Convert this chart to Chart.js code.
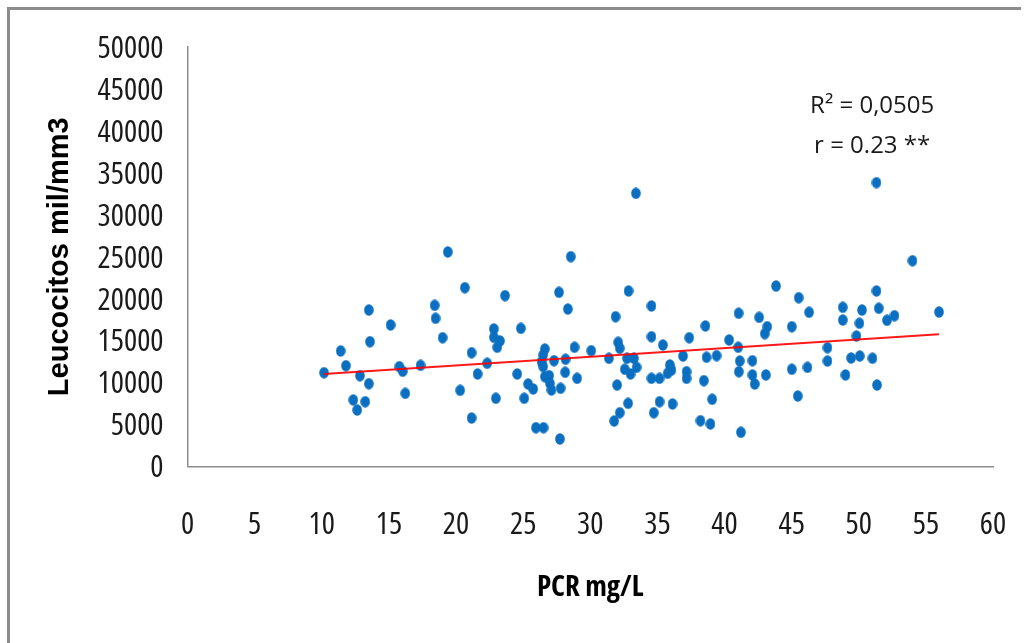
<!DOCTYPE html>
<html>
<head>
<meta charset="utf-8">
<title>Leucocitos vs PCR</title>
<script src="https://cdn.jsdelivr.net/npm/chart.js@4.4.1/dist/chart.umd.min.js"></script>
<style>
  html, body { margin: 0; padding: 0; background: #fff; }
  #wrap { position: relative; width: 1024px; height: 643px; overflow: hidden; }
  #frame { position: absolute; left: 7px; top: 7px; width: 1011px; height: 660px;
           border-left: 3px solid #8c8c8c; border-top: 3px solid #8c8c8c; }
  #myChart { position: absolute; left: 0; top: 0; }
</style>
</head>
<body>
<div id="wrap">
  <div id="frame"></div>
  <canvas id="myChart" width="1024" height="643"></canvas>
</div>
<script>
// PCR (mg/L) per patient
var pcrValues = [10.17, 11.41, 11.80, 12.84, 13.51, 12.35, 13.24, 12.64, 13.51, 13.59,
  15.13, 15.78, 16.03, 16.22, 17.36, 18.41, 18.48, 19.00, 19.39, 20.66,
  21.16, 20.31, 21.16, 21.61, 22.32, 22.82, 22.82, 23.27, 23.07, 22.97,
  23.65, 24.83, 24.56, 25.37, 25.75, 25.08, 25.95, 26.52, 27.74, 28.55,
  27.67, 28.33, 26.62, 26.49, 26.37, 26.49, 26.62, 26.94, 26.99, 27.11,
  27.30, 27.79, 28.16, 28.13, 28.83, 29.02, 30.07, 31.39, 31.89, 32.08,
  32.20, 32.00, 31.78, 32.20, 32.82, 32.85, 32.74, 33.25, 32.57, 33.00,
  33.45, 34.56, 34.56, 34.56, 35.16, 35.41, 35.16, 34.73, 36.13, 35.93,
  36.05, 35.76, 36.91, 37.17, 37.17, 37.37, 38.58, 38.66, 39.41, 38.46,
  39.08, 38.21, 38.95, 40.34, 41.05, 41.02, 41.14, 41.07, 41.22, 42.08,
  42.08, 42.25, 42.58, 43.18, 43.00, 43.08, 43.84, 45.01, 45.01, 45.53,
  46.30, 46.18, 45.46, 47.67, 47.67, 48.81, 48.81, 49.43, 49.01, 50.05,
  50.24, 49.83, 50.07, 51.02, 51.32, 51.49, 51.36, 51.32, 54.00, 52.10,
  52.66, 55.98, 33.40];

// Leucocitos (mil/mm3) per patient
var leucoValues = [11180, 13770, 12010, 10820, 9870, 7930, 7720, 6730, 18650, 14870,
  16870, 11900, 11350, 8720, 12060, 19210, 17660, 15350, 25570, 21310,
  13560, 9080, 5780, 11030, 12300, 16390, 15400, 14960, 14210, 8130,
  20360, 16470, 11030, 9830, 9240, 8130, 4620, 4620, 3280, 25010,
  20760, 18770, 14000, 13290, 12490, 11900, 10700, 10820, 9920, 9120,
  12610, 9320, 12780, 11230, 14210, 10510, 13800, 12900, 17850, 14800,
  14090, 9710, 5420, 6410, 7530, 20920, 12900, 12900, 11590, 11030,
  11820, 19130, 15470, 10510, 10510, 14480, 7720, 6410, 7450, 12100,
  11500, 11110, 13170, 11300, 10510, 15350, 16750, 13020, 13210, 10230,
  8010, 5460, 5070, 15080, 18260, 14210, 12570, 11300, 4080, 12610,
  10910, 9830, 17780, 16660, 15830, 10910, 21510, 16660, 11590, 20120,
  18380, 11820, 8400, 14160, 12570, 18970, 17460, 12930, 10910, 17070,
  18650, 15550, 13170, 12900, 20920, 18860, 9710, 33830, 24530, 17430,
  17970, 18410, 32560];

// linear trendline as drawn in the original
var trendX = [10.16, 55.98];
var trendY = [11030, 15760];

var xTicks = [0, 5, 10, 15, 20, 25, 30, 35, 40, 45, 50, 55, 60];
var yTicks = [0, 5000, 10000, 15000, 20000, 25000, 30000, 35000, 40000, 45000, 50000];

var statLines = ["R\u00b2 = 0,0505", "r = 0.23 **"];
var statX = 51;
var statY = [42170, 37330];

var sans = "'Open Sans', 'DejaVu Sans Condensed', sans-serif";

// elliptical marker like the excel export
var dot = document.createElement('canvas');
dot.width = 10;
dot.height = 12;
var dctx = dot.getContext('2d');
dctx.fillStyle = '#0a6fc0';
dctx.beginPath();
dctx.ellipse(5, 6, 4.8, 5.8, 0, 0, Math.PI * 2);
dctx.fill();

var points = [];
for (let i = 0; i < pcrValues.length; i++) {
  points.push({x: pcrValues[i], y: leucoValues[i]});
}
var trend = [];
for (let i = 0; i < trendX.length; i++) {
  trend.push({x: trendX[i], y: trendY[i]});
}

var statsPlugin = {
  id: 'stats',
  afterDraw(chart) {
    const ctx = chart.ctx;
    const xs = chart.scales.x, ys = chart.scales.y;
    ctx.save();
    ctx.fillStyle = '#1a1a1a';
    ctx.font = "24px " + sans;
    ctx.textAlign = 'center';
    ctx.textBaseline = 'alphabetic';
    for (let i = 0; i < statLines.length; i++) {
      ctx.fillText(statLines[i], xs.getPixelForValue(statX), ys.getPixelForValue(statY[i]));
    }
    ctx.restore();
  }
};

new Chart("myChart", {
  type: "scatter",
  data: {
    datasets: [{
      type: "line",
      data: trend,
      borderColor: "rgba(255,0,0,0.9)",
      borderWidth: 2,
      pointRadius: 0,
      fill: false
    }, {
      data: points,
      pointStyle: dot,
      pointRadius: 6,
      backgroundColor: "#0a6fc0",
      borderWidth: 0
    }]
  },
  options: {
    responsive: false,
    animation: false,
    layout: {padding: {left: 0, right: 31, top: 47, bottom: 0}},
    plugins: {
      legend: {display: false},
      tooltip: {enabled: false}
    },
    scales: {
      x: {
        type: "linear",
        min: 0,
        max: 60,
        afterBuildTicks: s => { s.ticks = xTicks.map(v => ({value: v})); },
        afterFit: s => { s.height = 176.5; s.paddingLeft = 0; s.paddingRight = 0; },
        grid: {display: false, drawTicks: false},
        border: {display: true, color: "#8c8c8c", width: 1.5},
        ticks: {
          padding: 40,
          color: "#1a1a1a",
          font: {family: sans, size: 31, weight: "condensed"},
          callback: v => String(v)
        },
        title: {
          display: true,
          text: "PCR mg/L",
          color: "#000",
          font: {family: sans, size: 29, weight: "bold condensed"},
          padding: {top: 0, bottom: 38}
        }
      },
      y: {
        min: 0,
        max: 50000,
        afterBuildTicks: s => { s.ticks = yTicks.map(v => ({value: v})); },
        afterFit: s => { s.width = 187.5; s.paddingTop = 0; s.paddingBottom = 0; },
        grid: {display: false, drawTicks: false},
        border: {display: true, color: "#8c8c8c", width: 1.5},
        ticks: {
          padding: 24,
          labelOffset: 2,
          color: "#1a1a1a",
          font: {family: sans, size: 31, weight: "condensed"},
          callback: v => String(v)
        },
        title: {
          display: true,
          text: "Leucocitos mil/mm3",
          color: "#000",
          font: {family: "'Liberation Sans', Arial, sans-serif", size: 29, weight: "bold"},
          padding: {top: 43, bottom: 0}
        }
      }
    }
  },
  plugins: [statsPlugin]
});
</script>
</body>
</html>
